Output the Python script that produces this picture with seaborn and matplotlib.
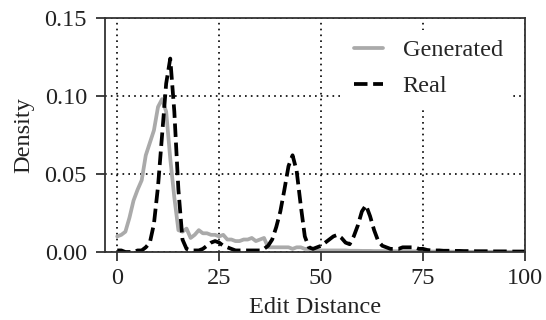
import numpy as np
import pandas as pd
import matplotlib
matplotlib.use("Agg")
import matplotlib.pyplot as plt
import seaborn as sns

edit_distance = list(range(0, 101))

generated = [
    0.010, 0.011, 0.013, 0.022, 0.033, 0.040, 0.046, 0.062, 0.070, 0.078,
    0.093, 0.098, 0.090, 0.060, 0.035, 0.014, 0.013, 0.015, 0.009, 0.011,
    0.014, 0.012, 0.012, 0.011, 0.011, 0.010, 0.011, 0.008, 0.008, 0.007,
    0.007, 0.008, 0.008, 0.009, 0.007, 0.008, 0.009, 0.003, 0.003, 0.003,
    0.003, 0.003, 0.003, 0.002, 0.003, 0.003, 0.002, 0.002, 0.002, 0.001,
    0.001, 0.001, 0.001, 0.001, 0.001, 0.001, 0.001, 0.0008, 0.0008, 0.0008,
    0.0007, 0.0007, 0.0007, 0.0006, 0.0006, 0.0006, 0.0005, 0.0005, 0.0005, 0.0005,
    0.0004, 0.0004, 0.0004, 0.0004, 0.0003, 0.0003, 0.0003, 0.0003, 0.0003, 0.0002,
    0.0002, 0.0002, 0.0002, 0.0002, 0.0002, 0.0002, 0.0001, 0.0001, 0.0001, 0.0001,
    0.0001, 0.0001, 0.0001, 0.0001, 0.0001, 0.0001, 0.0001, 0.0001, 0.0001, 0.0001,
    0.0001,
]

real = [
    0.001, 0.001, 0.000, 0.000, 0.000, 0.001, 0.001, 0.003, 0.006, 0.018,
    0.042, 0.075, 0.108, 0.124, 0.090, 0.040, 0.008, 0.002, 0.001, 0.001,
    0.001, 0.002, 0.004, 0.006, 0.007, 0.006, 0.004, 0.003, 0.002, 0.001,
    0.001, 0.001, 0.001, 0.001, 0.001, 0.001, 0.002, 0.004, 0.008, 0.016,
    0.026, 0.040, 0.055, 0.062, 0.052, 0.030, 0.010, 0.003, 0.002, 0.003,
    0.004, 0.006, 0.008, 0.010, 0.011, 0.009, 0.006, 0.005, 0.010, 0.017,
    0.026, 0.030, 0.023, 0.014, 0.007, 0.004, 0.003, 0.002, 0.002, 0.002,
    0.003, 0.003, 0.003, 0.003, 0.002, 0.002, 0.0013, 0.001, 0.001, 0.001,
    0.0008, 0.0008, 0.0008, 0.0007, 0.0007, 0.0006, 0.0006, 0.0006, 0.0005, 0.0005,
    0.0005, 0.0005, 0.0004, 0.0004, 0.0004, 0.0004, 0.0004, 0.0003, 0.0003, 0.0003,
    0.0003,
]

x_ticks = [0, 25, 50, 75, 100]
y_ticks = [0.00, 0.05, 0.10, 0.15]
y_tick_labels = ["0.00", "0.05", "0.10", "0.15"]

df = pd.DataFrame({
    "Edit Distance": edit_distance * 2,
    "Density": generated + real,
    "Source": ["Generated"] * len(generated) + ["Real"] * len(real),
})

sns.set_theme(style="ticks")
plt.rcParams["font.family"] = ["Liberation Serif", "DejaVu Serif"]
plt.rcParams["mathtext.fontset"] = "stix"

fig = plt.figure(figsize=(5.46, 3.20), dpi=100)
ax = fig.add_axes([105 / 546, 1 - 252 / 320, 420 / 546, 234 / 320])

sns.lineplot(
    data=df, x="Edit Distance", y="Density", hue="Source", style="Source",
    palette={"Generated": "#aaaaaa", "Real": "black"},
    dashes={"Generated": "", "Real": (3.6, 1.5)},
    linewidth=2.7, ax=ax, legend=True,
)

fs = 17.5
ax.set_xlim(-3, 100)
ax.set_ylim(0, 0.15)
ax.set_xticks(x_ticks)
ax.set_yticks(y_ticks)
ax.set_yticklabels(y_tick_labels)
ax.tick_params(axis="both", labelsize=fs, direction="out", length=6.5, width=1.3,
               colors="#333333", labelcolor="#222222")
ax.tick_params(axis="y", pad=6.5)
ax.tick_params(axis="x", pad=5)
ax.set_xlabel("Edit Distance", fontsize=fs, color="#222222", labelpad=6)
ax.set_ylabel("Density", fontsize=fs, color="#222222", labelpad=7)
for s in ax.spines.values():
    s.set_visible(True)
    s.set_color("#333333")
    s.set_linewidth(1.3)
ax.grid(True, color="black", linestyle=(0, (1, 2.5)), linewidth=1.2)
ax.set_axisbelow(True)

leg = ax.legend(loc="upper right", bbox_to_anchor=(0.97, 0.95), fontsize=fs,
                frameon=True, framealpha=1, edgecolor="none",
                handlelength=1.2, handletextpad=0.8, borderaxespad=0,
                labelspacing=0.57)
leg.get_frame().set_linewidth(0)

fig.savefig("out.png", dpi=100)
